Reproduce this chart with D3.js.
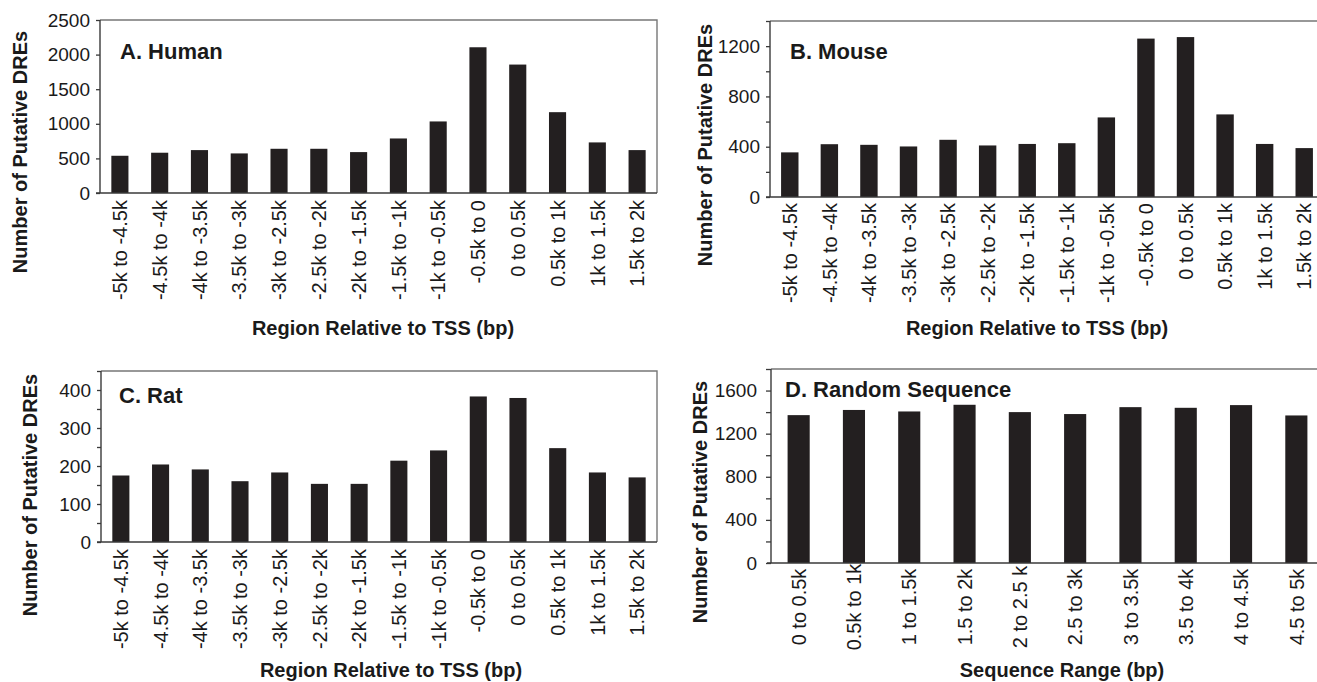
<!DOCTYPE html>
<html>
<head>
<meta charset="utf-8">
<script src="https://cdn.jsdelivr.net/npm/d3@7"></script>
<style>
  html, body { margin: 0; padding: 0; background: #fff; overflow: hidden; }
  svg { display: block; font-family: "Liberation Sans", Arial, Helvetica, sans-serif; }
</style>
</head>
<body>
<svg id="chart" width="1317" height="682"></svg>
<script>
// ---- Data ----
const tssCategories = ["-5k to -4.5k", "-4.5k to -4k", "-4k to -3.5k", "-3.5k to -3k", "-3k to -2.5k",
  "-2.5k to -2k", "-2k to -1.5k", "-1.5k to -1k", "-1k to -0.5k", "-0.5k to 0", "0 to 0.5k",
  "0.5k to 1k", "1k to 1.5k", "1.5k to 2k"];
const randomCategories = ["0 to 0.5k", "0.5k to 1k", "1 to 1.5k", "1.5 to 2k", "2 to 2.5 k",
  "2.5 to 3k", "3 to 3.5k", "3.5 to 4k", "4 to 4.5k", "4.5 to 5k"];

const humanValues  = [538, 582, 620, 572, 639, 639, 591, 788, 1034, 2106, 1856, 1168, 731, 620];
const mouseValues  = [355, 420, 415, 402, 455, 410, 422, 428, 633, 1260, 1272, 657, 422, 389];
const ratValues    = [175, 204, 191, 160, 183, 153, 153, 214, 241, 383, 379, 247, 183, 170];
const randomValues = [1372, 1420, 1406, 1468, 1400, 1382, 1446, 1440, 1465, 1369];

const humanTicks  = [0, 500, 1000, 1500, 2000, 2500];
const mouseTicks  = [0, 400, 800, 1200];
const mouseMinor  = [200, 600, 1000, 1400];
const ratTicks    = [0, 100, 200, 300, 400];
const ratMinor    = [50, 150, 250, 350, 450];
const randomTicks = [0, 400, 800, 1200, 1600];
const randomMinor = [200, 600, 1000, 1400, 1800];

const panelTitles = ["A. Human", "B. Mouse", "C. Rat", "D. Random Sequence"];
const xTitles = ["Region Relative to TSS (bp)", "Region Relative to TSS (bp)",
                 "Region Relative to TSS (bp)", "Sequence Range (bp)"];
const yTitle = "Number of Putative DREs";

// ---- Layout ----
const svg = d3.select("#chart");
const BAR = "#231f20";
const AXIS = "#3a3a3a";
const FRAME = "#777777";

const panels = [
  { cats: tssCategories, vals: humanValues, max: 2500, ticks: humanTicks, minor: [],
    x0: 100, x1: 657, top: 20, base: 193, pad: 0.57, tickSize: 4, tickPad: 6,
    title: panelTitles[0], tx: 120, ty: 59,
    xt: xTitles[0], xtx: 383, xty: 335, ytx: 20, yty: 152, labelAnchor: "end", labelY: 7 },
  { cats: tssCategories, vals: mouseValues, max: 1400, ticks: mouseTicks, minor: mouseMinor,
    x0: 770, x1: 1324, top: 21, base: 197, pad: 0.56, tickSize: 4, tickPad: 6,
    title: panelTitles[1], tx: 790, ty: 59,
    xt: xTitles[1], xtx: 1037, xty: 335, ytx: 705, yty: 145, labelAnchor: "end", labelY: 6 },
  { cats: tssCategories, vals: ratValues, max: 450, ticks: ratTicks, minor: ratMinor,
    x0: 101, x1: 657, top: 371, base: 542, pad: 0.57, tickSize: 4, tickPad: 6,
    title: panelTitles[2], tx: 119, ty: 403,
    xt: xTitles[2], xtx: 391, xty: 677, ytx: 30, yty: 495, labelAnchor: "end", labelY: 7 },
  { cats: randomCategories, vals: randomValues, max: 1800, ticks: randomTicks, minor: randomMinor,
    x0: 771, x1: 1324, top: 369, base: 563, pad: 0.6, tickSize: 5, tickPad: 9,
    title: panelTitles[3], tx: 785, ty: 397,
    xt: xTitles[3], xtx: 1062, xty: 677, ytx: 700, yty: 502, labelAnchor: "middle", labelY: 44 }
];

panels.forEach(p => {
  const g = svg.append("g");
  const x = d3.scaleBand().domain(p.cats).range([p.x0, p.x1])
    .paddingInner(p.pad).paddingOuter(p.pad / 2);
  const y = d3.scaleLinear().domain([0, p.max]).range([p.base, p.top]);

  // frame (top and right)
  g.append("path")
    .attr("d", `M${p.x0},${p.top}H${p.x1}V${p.base}`)
    .attr("fill", "none").attr("stroke", FRAME).attr("stroke-width", 1.4);

  // bars
  g.selectAll("rect.bar").data(p.vals).join("rect")
    .attr("class", "bar")
    .attr("x", (d, i) => x(p.cats[i]))
    .attr("width", x.bandwidth())
    .attr("y", d => y(d))
    .attr("height", d => y(0) - y(d))
    .attr("fill", BAR);

  // y axis (major)
  const yAxis = d3.axisLeft(y).tickValues(p.ticks).tickSize(p.tickSize)
    .tickPadding(p.tickPad).tickFormat(d3.format("d"));
  const ya = g.append("g").attr("transform", `translate(${p.x0},0)`).call(yAxis);
  ya.select(".domain").attr("stroke", AXIS).attr("stroke-width", 1.4)
    .attr("d", `M0,${p.top}V${p.base}`);
  ya.selectAll(".tick line").attr("stroke", AXIS).attr("stroke-width", 1.3);
  ya.selectAll(".tick text").attr("fill", "#1a1a1a")
    .style("font-size", "19px").attr("font-family", null);

  // minor ticks
  if (p.minor.length) {
    const ym = d3.axisLeft(y).tickValues(p.minor).tickSize(p.tickSize).tickFormat("");
    const ymg = g.append("g").attr("transform", `translate(${p.x0},0)`).call(ym);
    ymg.select(".domain").remove();
    ymg.selectAll(".tick line").attr("stroke", AXIS).attr("stroke-width", 1.3);
  }

  // x axis baseline
  const xAxis = d3.axisBottom(x).tickSize(0).tickPadding(0);
  const xa = g.append("g").attr("transform", `translate(0,${p.base})`).call(xAxis);
  xa.select(".domain").attr("stroke", AXIS).attr("stroke-width", 1.4)
    .attr("d", `M${p.x0 - 4},0H${p.x1}`);
  xa.selectAll(".tick text")
    .attr("fill", "#1a1a1a")
    .attr("font-family", null)
    .style("font-size", "20px")
    .attr("text-anchor", p.labelAnchor)
    .attr("transform", `translate(0,${p.labelY}) rotate(-90)`)
    .attr("x", 0).attr("y", 0).attr("dy", "0.36em");

  // panel title
  g.append("text").attr("x", p.tx).attr("y", p.ty)
    .attr("fill", "#1a1a1a").style("font-size", "22px").style("font-weight", "bold")
    .text(p.title);

  // x title
  g.append("text").attr("x", p.xtx).attr("y", p.xty)
    .attr("text-anchor", "middle")
    .attr("fill", "#1a1a1a").style("font-size", "20px").style("font-weight", "bold")
    .text(p.xt);

  // y title
  g.append("text")
    .attr("transform", `translate(${p.ytx},${p.yty}) rotate(-90)`)
    .attr("text-anchor", "middle").attr("dy", "0.36em")
    .attr("fill", "#1a1a1a").style("font-size", "20px").style("font-weight", "bold")
    .text(yTitle);
});
</script>
</body>
</html>
